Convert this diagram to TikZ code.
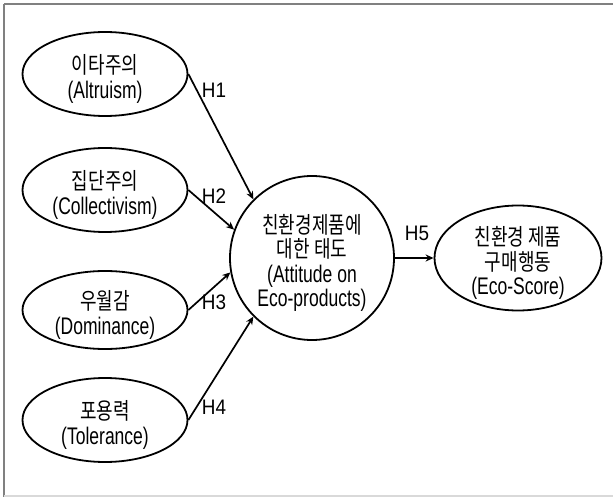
\documentclass[tikz,border=0pt]{standalone}
\usepackage{fontspec}
\setmainfont{Liberation Sans}[FakeStretch=0.73]
\newfontfamily\kr{Noto Sans CJK KR}[FakeStretch=0.78,Scale=0.96]
\newfontfamily\labfont{Liberation Sans}[FakeStretch=0.9]
\newcommand\nodefont{\fontsize{24}{24.5}\selectfont\lineskiplimit=-30pt\lineskip=0pt}
\usetikzlibrary{shapes.geometric,arrows.meta}
\begin{document}
\begin{tikzpicture}[x=1pt,y=-1pt,
  every node/.style={inner sep=0pt},
  txt/.style={font=\nodefont, align=center, yshift=-5pt},
  oval/.style={ellipse, draw, line width=1.8pt, minimum width=165pt, minimum height=84pt},
  hyp/.style={line width=1.7pt, -{Stealth[length=8pt,width=7pt]}},
  lab/.style={font=\labfont\fontsize{21}{24}\selectfont}]
\useasboundingbox (0,0) rectangle (613,497);
\draw[gray, line width=2pt] (4,4.5) -- (613,4.5);
\draw[gray, line width=1.2pt] (4,4.5) -- (4,497);
\draw[black!15, line width=1.5pt] (4,496) -- (613,496);
\node[oval, label={[txt]center:{{\kr 이타주의}\\(Altruism)}}] (e1) at (105,74) {};
\node[oval, label={[txt]center:{{\kr 집단주의}\\(Collectivism)}}] (e2) at (105,190) {};
\node[oval, minimum height=78pt, label={[txt]center:{{\kr 우월감}\\(Dominance)}}] (e3) at (105,310) {};
\node[oval, label={[txt]center:{{\kr 포용력}\\(Tolerance)}}] (e4) at (105,420) {};
\node[circle, draw, line width=1.8pt, minimum size=164pt,
  label={[txt]center:{{\kr 친환경제품에}\\{\kr 대한 태도}\\(Attitude on\\Eco-products)}}] (c) at (312,258) {};
\node[oval, minimum width=167pt, minimum height=105pt,
  label={[txt]center:{{\kr 친환경 제품}\\{\kr 구매행동}\\(Eco-Score)}}] (r) at (518,258) {};
\draw[hyp] (e1.east) -- (c.135);
\draw[hyp] (e2.east) -- (c.160);
\draw[hyp] (e3.east) -- (c.190);
\draw[hyp] (e4.east) -- (c.225);
\draw[hyp] (c.east) -- (r.west);
\node[lab] (h1) at (214,90) {H1};
\node[lab] (h2) at (214,196) {H2};
\node[lab] (h3) at (214,302) {H3};
\node[lab] (h4) at (214,407) {H4};
\node[lab] (h5) at (417,233) {H5};
\end{tikzpicture}
\end{document}
